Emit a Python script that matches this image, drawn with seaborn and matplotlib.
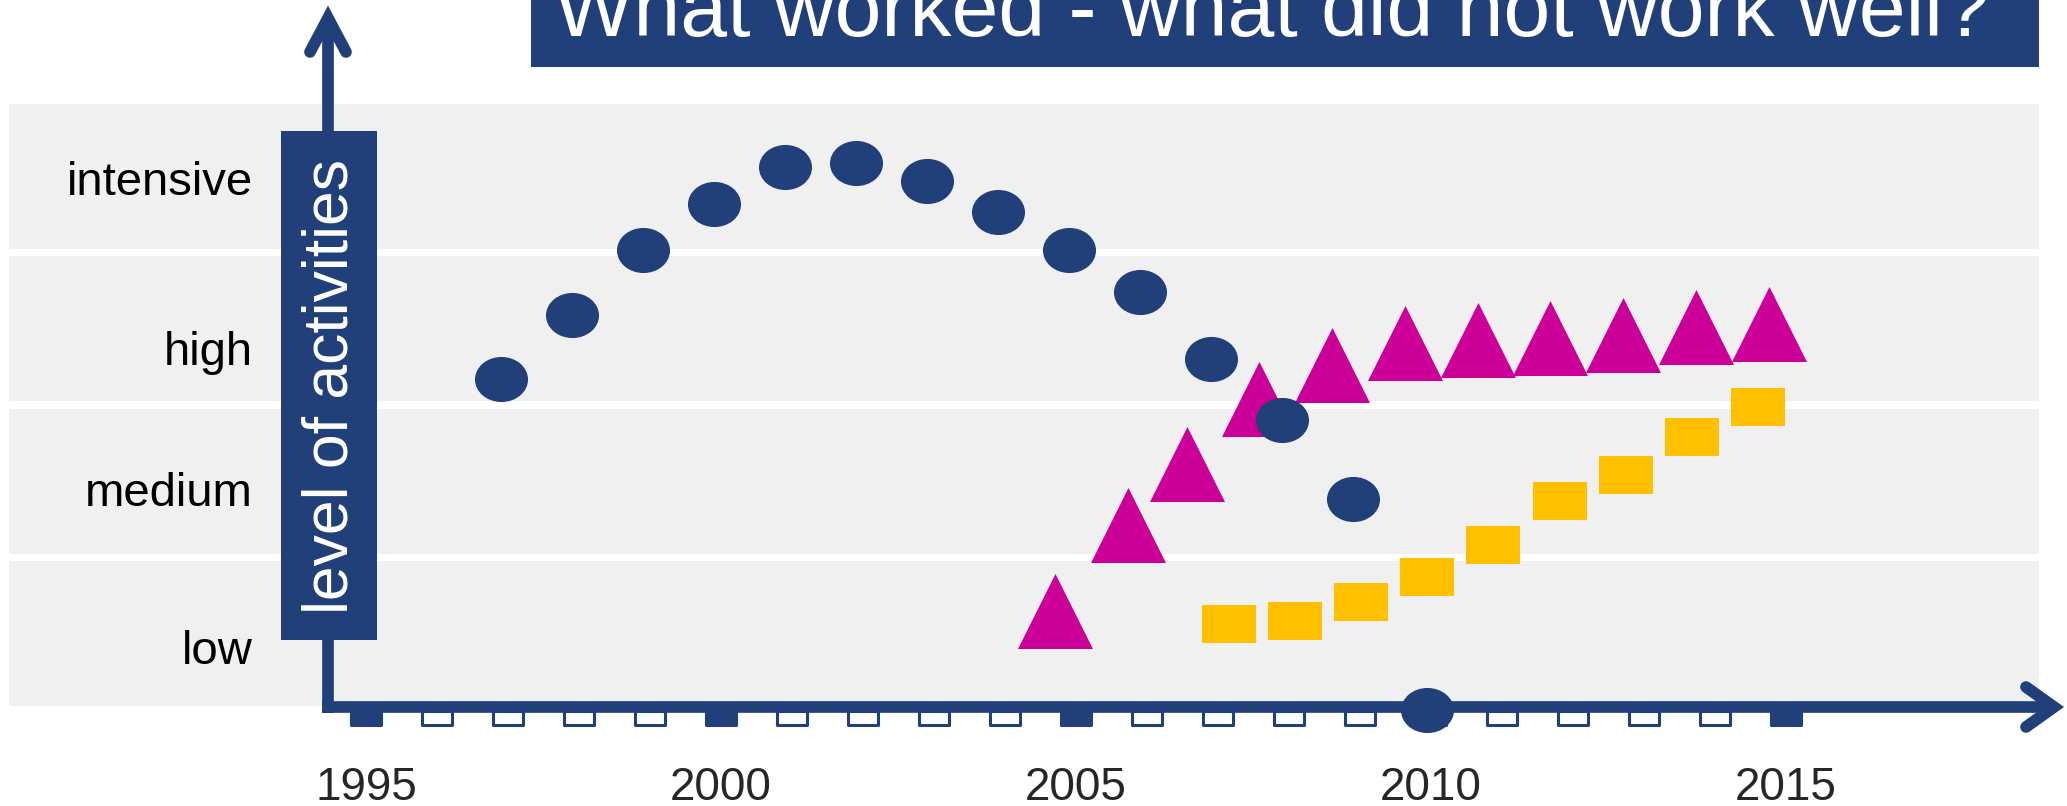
import seaborn as sns
import matplotlib.pyplot as plt
import matplotlib.transforms as mtransforms
from matplotlib.path import Path
from matplotlib.patches import Rectangle
from matplotlib.lines import Line2D

# level of activities: 0 = low ... 3 = intensive
levels = ['low', 'medium', 'high', 'intensive']
year_labels = [1995, 2000, 2005, 2010, 2015]
tick_years = list(range(1995, 2016))

circle_years = [1996.9, 1997.9, 1998.9, 1999.9, 2000.9, 2001.9, 2002.9, 2003.9, 2004.9,
                2005.9, 2006.9, 2007.9, 2008.9, 2009.94]
circle_levels = [1.67, 2.09, 2.52, 2.82, 3.06, 3.09, 2.97, 2.77, 2.52, 2.24, 1.80, 1.40, 0.88, -0.50]

triangle_years = [2004.71, 2005.73, 2006.57, 2007.58, 2008.61, 2009.63, 2010.66, 2011.68, 2012.71, 2013.73, 2014.76]
triangle_levels = [0.15, 0.71, 1.11, 1.54, 1.76, 1.91, 1.93, 1.94, 1.96, 2.01, 2.03]

square_years = [2007.15, 2008.09, 2009.02, 2009.95, 2010.88, 2011.81, 2012.74, 2013.67, 2014.60]
square_levels = [0.06, 0.08, 0.21, 0.37, 0.58, 0.87, 1.04, 1.29, 1.49]

blue = '#21407A'
magenta = '#CC0099'
yellow = '#FFC000'
band_grey = '#F0F0F0'

sns.set_style('white')
plt.rcParams['font.family'] = ['Liberation Sans', 'DejaVu Sans']

W, H = 2067, 806
fig = plt.figure(figsize=(W / 100, H / 100), dpi=100)
ax = fig.add_axes([0, 0, 1, 1])
# 71 px per year (1995 at x=366), 152.3 px per level (low at y=633.5)
ax.set_xlim(1995 - 366 / 71, 1995 + (W - 366) / 71)
ax.set_ylim(-(H - 633.5) / 152.3, 633.5 / 152.3)
ax.axis('off')

# pixel coordinates, origin top-left, for the decorations
px = mtransforms.Affine2D().scale(1 / W, -1 / H).translate(0, 1) + fig.transFigure
px_x = mtransforms.blended_transform_factory(px, ax.transData)
px_y = mtransforms.blended_transform_factory(ax.transData, px)

# background bands and level names (names sit a little below the band centre)
label_drop = [0.20, 0.16, 0.24, 0.12]
for i, name in enumerate(levels):
    ax.axhspan(i - 0.476, i + 0.476, xmin=9 / W, xmax=2039 / W, color=band_grey, lw=0, zorder=0)
    ax.text(253, i - label_drop[i], name, transform=px_x, ha='right', va='baseline',
            fontsize=34, color='black')

# axes with open arrow heads
lw_axis = 8.4
ax.add_line(Line2D([328, 328], [713, 18], transform=px, color=blue, lw=lw_axis,
                   solid_capstyle='butt', zorder=3))
ax.add_line(Line2D([310, 328, 346], [52, 18, 52], transform=px, color=blue, lw=lw_axis,
                   solid_capstyle='round', solid_joinstyle='miter', zorder=3))
ax.add_line(Line2D([322, 2054], [707, 707], transform=px, color=blue, lw=lw_axis,
                   solid_capstyle='butt', zorder=3))
ax.add_line(Line2D([2026, 2054, 2026], [687, 707, 727], transform=px, color=blue, lw=lw_axis,
                   solid_capstyle='round', solid_joinstyle='miter', zorder=3))

# tick blocks under the x axis
tick_marker = Path([(-1, -0.48), (1, -0.48), (1, 0.48), (-1, 0.48), (-1, -0.48)],
                   [Path.MOVETO, Path.LINETO, Path.LINETO, Path.LINETO, Path.CLOSEPOLY])
tick_faces = [blue if y % 5 == 0 else 'white' for y in tick_years]
ax.scatter(tick_years, [718] * len(tick_years), transform=px_y, marker=tick_marker,
           s=22.3 ** 2, facecolors=tick_faces, edgecolors=blue, linewidths=2.2, zorder=2.5)
for yr in year_labels:
    ax.text(yr, 800, str(yr), transform=px_y, ha='center', va='baseline', fontsize=33)

# y label box
ax.add_patch(Rectangle((281, 131), 96, 509, transform=px, facecolor=blue, lw=0, zorder=3.5))
ax.text(331, 387, 'level of activities', transform=px, rotation=90, ha='center', va='center',
        fontsize=45, color='white', zorder=3.6)

# title box, cut by the top edge
ax.add_patch(Rectangle((531, -10), 1508, 77, transform=px, facecolor=blue, lw=0, zorder=3))
ax.text(554, 36, 'What worked - what did not work well?', transform=px, ha='left',
        va='baseline', fontsize=60.6, color='white', zorder=3.1)

# series markers
ellipse = Path.unit_circle().transformed(mtransforms.Affine2D().scale(1, 0.85))
rect = Path([(-1, -0.71), (1, -0.71), (1, 0.71), (-1, 0.71), (-1, -0.71)],
            [Path.MOVETO, Path.LINETO, Path.LINETO, Path.LINETO, Path.CLOSEPOLY])

sns.scatterplot(x=triangle_years, y=triangle_levels, marker='^', s=54 ** 2,
                color=magenta, linewidth=0, ax=ax, zorder=4)
sns.scatterplot(x=square_years, y=square_levels, marker=rect, s=38.2 ** 2,
                color=yellow, linewidth=0, ax=ax, zorder=4)
sns.scatterplot(x=circle_years, y=circle_levels, marker=ellipse, s=38.2 ** 2,
                color=blue, linewidth=0, ax=ax, zorder=5)

fig.savefig('out.png', dpi=100)
